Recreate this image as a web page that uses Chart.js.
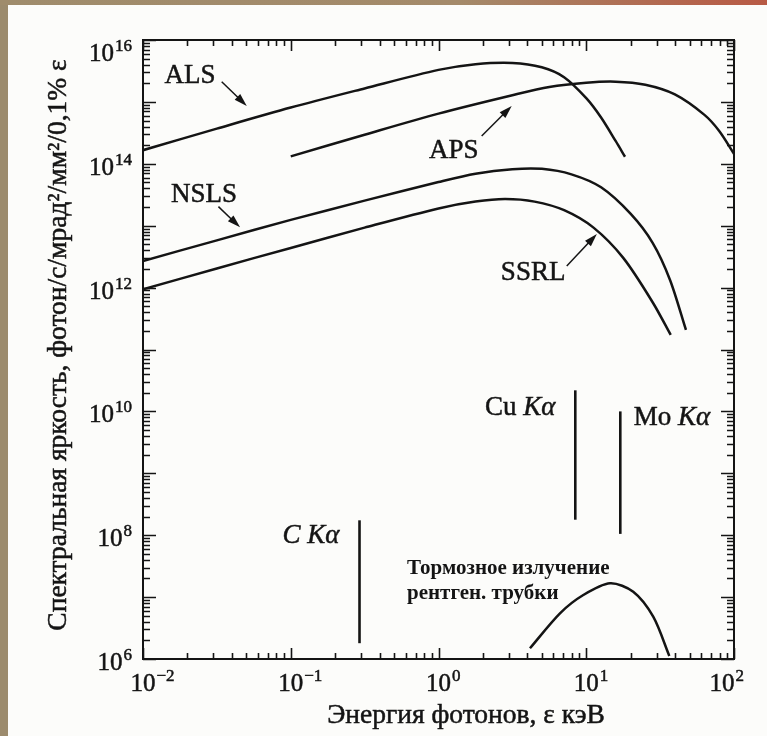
<!DOCTYPE html>
<html lang="ru">
<head>
<meta charset="utf-8">
<title>Спектральная яркость источников</title>
<script src="https://cdn.jsdelivr.net/npm/chart.js@4.4.1/dist/chart.umd.min.js"></script>
<style>
  html,body{margin:0;padding:0;background:#fcfcfa;overflow:hidden;}
  #wrap{position:relative;width:767px;height:736px;}
  #chart{position:absolute;left:0;top:0;}
  .strip{position:absolute;z-index:2;}
  #stripLeft{left:0;top:0;width:8px;height:736px;background:#9c8b6d;}
  #stripTop{left:0;top:0;width:767px;height:5px;background:linear-gradient(90deg,#9f8c6c 0%,#a48a6a 60%,#b4644c 90%,#b85a45 100%);}
</style>
</head>
<body>
<div id="wrap">
  <canvas id="chart" width="767" height="736"></canvas>
  <div class="strip" id="stripLeft"></div>
  <div class="strip" id="stripTop"></div>
</div>
<script>
// ===== данные (кэВ, фотон/с/мрад²/мм²/0,1%) =====
const alsE  = [0.01, 0.0316, 0.1, 0.316, 1, 1.78, 3.16, 5.0, 7.08, 10, 12.6, 15.8, 18.3];
const alsB  = [1.66e14, 3.7e14, 8.1e14, 1.65e15, 3.29e15, 4.07e15, 4.27e15, 3.63e15, 2.51e15, 1.15e15, 5.6e14, 2.34e14, 1.3e14];

const apsE  = [0.1, 0.316, 1, 3.16, 5.62, 10, 15.8, 25.1, 39.8, 63.1, 79.4, 100];
const apsB  = [1.32e14, 2.95e14, 6.46e14, 1.28e15, 1.74e15, 2.04e15, 2.12e15, 1.89e15, 1.32e15, 6.17e14, 3.39e14, 1.45e14];

const nslsE = [0.01, 0.0316, 0.1, 0.316, 1, 1.78, 3.16, 5.01, 7.94, 12.6, 20, 28.2, 36.9, 47.3];
const nslsB = [2.69e12, 5.8e12, 1.24e13, 2.54e13, 5.07e13, 6.92e13, 8.2e13, 8.3e13, 6.76e13, 4.17e13, 1.55e13, 5.25e12, 1.33e12, 2.07e11];

const ssrlE = [0.01, 0.0316, 0.1, 0.316, 1, 1.78, 2.82, 4.47, 7.08, 11.2, 17.8, 28.2, 37.3];
const ssrlB = [9.4e11, 2.04e12, 4.37e12, 9.3e12, 1.9e13, 2.45e13, 2.69e13, 2.45e13, 1.78e13, 9.3e12, 3.02e12, 5.75e11, 1.72e11];

// тормозное излучение рентгеновской трубки
const tubeE = [4.16, 6.64, 9.55, 14.5, 20.8, 28.4, 36.5];
const tubeB = [1.49e6, 5.47e6, 1.08e7, 1.67e7, 1.22e7, 4.82e6, 1.12e6];

// характеристические линии: энергия, нижний и верхний уровень
const lineNames = ['C Kα', 'Cu Kα', 'Mo Kα'];
const lineE     = [0.292, 8.43, 17.0];
const lineLow   = [1.8e6, 1.78e8, 1.05e8];
const lineHigh  = [1.74e8, 2.19e10, 1.0e10];

// оси
const xDecades = [1e-2, 1e-1, 1, 10, 100];
const xExp     = ['−2', '−1', '0', '1', '2'];
const yDecades = [1e6, 1e7, 1e8, 1e9, 1e10, 1e11, 1e12, 1e13, 1e14, 1e15, 1e16];
const yLabeled = [1e6, 1e8, 1e10, 1e12, 1e14, 1e16];
const yExp     = ['6', '8', '10', '12', '14', '16'];

const xTitle = 'Энергия фотонов, ε кэВ';
const yTitle = 'Спектральная яркость, фотон/с/мрад²/мм²/0,1% ε';

// подписи (в координатах данных)
const notes = [
  {text:'ALS',  x:0.0208, y:2.02e15, arrow:[0.0341, 2.12e15, 0.0504, 8.6e14]},
  {text:'NSLS', x:0.0259, y:2.42e13, arrow:[0.0324, 2.03e13, 0.0454, 9.4e12]},
  {text:'APS',  x:1.27,   y:1.24e14, arrow:[1.96, 2.81e14, 3.13, 8.6e14]},
  {text:'SSRL', x:4.37,   y:1.33e12, arrow:[7.38, 2.23e12, 11.8, 7.35e12]}
];
const lineNotes = [
  {parts:[['C ', true], ['Kα', true]],   x:0.137, y:7.48e7},
  {parts:[['Cu ', false], ['Kα', true]], x:3.57,  y:8.75e9},
  {parts:[['Mo ', false], ['Kα', true]], x:38.0,  y:6.03e9}
];
const tubeText = ['Тормозное излучение', 'рентген. трубки'];
const tubeTextPos = [[0.612, 2.36e7], [0.612, 9.3e6]];

const INK = '#141414';
const SERIF = '"Liberation Serif", "Times New Roman", serif';

const pts = (xs, ys) => xs.map((x, i) => ({x, y: ys[i]}));

function curve(label, xs, ys){
  return {label, data: pts(xs, ys), borderColor: INK, borderWidth: 2.5,
    pointRadius: 0, fill: false, tension: 0.3};
}

const datasets = [
  curve('ALS', alsE, alsB),
  curve('APS', apsE, apsB),
  curve('NSLS', nslsE, nslsB),
  curve('SSRL', ssrlE, ssrlB),
  curve('Тормозное излучение', tubeE, tubeB)
];
lineNames.forEach((n, i) => {
  datasets.push({label: n, data: [{x: lineE[i], y: lineLow[i]}, {x: lineE[i], y: lineHigh[i]}],
    borderColor: INK, borderWidth: 2.6, pointRadius: 0, tension: 0});
});

function minorTicks(decades){
  const out = [];
  for (let i = 0; i < decades.length - 1; i++)
    for (let k = 2; k <= 9; k++) out.push(decades[i] * k);
  return out;
}

// текст чуть жирнее, как в печати
function inkText(ctx, t, x, y){
  ctx.fillText(t, x, y);
  ctx.strokeText(t, x, y);
}

// "10" + показатель; align: 'right' — прижать к x, иначе "10" по центру x
function powerLabel(ctx, base, exp, x, yBase, align, maxRight){
  ctx.font = '25px ' + SERIF;
  const wb = ctx.measureText(base).width;
  ctx.font = '17px ' + SERIF;
  const we = ctx.measureText(exp).width;
  const gap = 1;
  let left;
  if (align === 'right') left = x - wb - gap - we;
  else {
    left = x - wb / 2;
    if (maxRight !== undefined && left + wb + gap + we > maxRight) left = maxRight - (wb + gap + we);
  }
  ctx.textAlign = 'left';
  ctx.textBaseline = 'alphabetic';
  ctx.font = '25px ' + SERIF;
  inkText(ctx, base, left, yBase);
  ctx.font = '17px ' + SERIF;
  inkText(ctx, exp, left + wb + gap, yBase - 10);
}

function arrow(ctx, x1, y1, x2, y2){
  const ang = Math.atan2(y2 - y1, x2 - x1);
  const len = 13, half = 4;
  ctx.lineWidth = 1.5;
  ctx.beginPath();
  ctx.moveTo(x1, y1);
  ctx.lineTo(x2 - Math.cos(ang) * len * 0.8, y2 - Math.sin(ang) * len * 0.8);
  ctx.stroke();
  ctx.beginPath();
  ctx.moveTo(x2, y2);
  ctx.lineTo(x2 - Math.cos(ang) * len - Math.sin(ang) * half, y2 - Math.sin(ang) * len + Math.cos(ang) * half);
  ctx.lineTo(x2 - Math.cos(ang) * len + Math.sin(ang) * half, y2 - Math.sin(ang) * len - Math.cos(ang) * half);
  ctx.closePath();
  ctx.fill();
}

const framePlugin = {
  id: 'frame',
  afterDraw(chart){
    const {ctx, chartArea: a, scales: {x, y}} = chart;
    ctx.save();
    ctx.strokeStyle = INK;
    ctx.fillStyle = INK;

    // рамка
    ctx.lineWidth = 2;
    ctx.strokeRect(a.left, a.top, a.right - a.left, a.bottom - a.top);

    // засечки внутрь рамки
    ctx.lineWidth = 1.6;
    ctx.beginPath();
    const xt = xDecades.map(v => [v, 11]).concat(minorTicks(xDecades).map(v => [v, 6]));
    xt.forEach(([v, l]) => {
      const p = Math.round(x.getPixelForValue(v)) + 0.5;
      ctx.moveTo(p, a.bottom); ctx.lineTo(p, a.bottom - l);
      ctx.moveTo(p, a.top);    ctx.lineTo(p, a.top + l);
    });
    const yt = yDecades.map(v => [v, 13]).concat(minorTicks(yDecades).map(v => [v, 7]));
    yt.forEach(([v, l]) => {
      const p = Math.round(y.getPixelForValue(v)) + 0.5;
      ctx.moveTo(a.left, p);  ctx.lineTo(a.left + l, p);
      ctx.moveTo(a.right, p); ctx.lineTo(a.right - l, p);
    });
    ctx.stroke();

    ctx.lineWidth = 0.5;
    // подписи делений
    xDecades.forEach((v, i) => powerLabel(ctx, '10', xExp[i], x.getPixelForValue(v), a.bottom + 32, 'center', a.right + 10));
    yLabeled.forEach((v, i) => {
      const p = y.getPixelForValue(v);
      powerLabel(ctx, '10', yExp[i], a.left - 11, Math.max(p + 11, a.top + 21), 'right');
    });

    // названия осей
    ctx.font = '27.5px ' + SERIF;
    ctx.textAlign = 'center';
    ctx.textBaseline = 'alphabetic';
    inkText(ctx, xTitle, 466, 723);
    ctx.save();
    ctx.translate(66, 345);
    ctx.rotate(-Math.PI / 2);
    inkText(ctx, yTitle, 0, 0);
    ctx.restore();

    // подписи кривых со стрелками
    notes.forEach(n => {
      ctx.font = '27px ' + SERIF;
      ctx.textAlign = 'center';
      ctx.lineWidth = 0.5;
      inkText(ctx, n.text, x.getPixelForValue(n.x), y.getPixelForValue(n.y));
      const [ax1, ay1, ax2, ay2] = n.arrow;
      arrow(ctx, x.getPixelForValue(ax1), y.getPixelForValue(ay1), x.getPixelForValue(ax2), y.getPixelForValue(ay2));
    });

    // характеристические линии
    ctx.lineWidth = 0.5;
    lineNotes.forEach(n => {
      let w = 0;
      n.parts.forEach(([t, it]) => { ctx.font = (it ? 'italic ' : '') + '27px ' + SERIF; w += ctx.measureText(t).width; });
      let cx = x.getPixelForValue(n.x) - w / 2;
      const by = y.getPixelForValue(n.y);
      ctx.textAlign = 'left';
      n.parts.forEach(([t, it]) => {
        ctx.font = (it ? 'italic ' : '') + '27px ' + SERIF;
        inkText(ctx, t, cx, by);
        cx += ctx.measureText(t).width;
      });
    });

    // тормозное излучение
    ctx.font = 'bold 21px ' + SERIF;
    ctx.textAlign = 'left';
    tubeText.forEach((t, i) => ctx.fillText(t, x.getPixelForValue(tubeTextPos[i][0]), y.getPixelForValue(tubeTextPos[i][1])));

    ctx.restore();
  }
};

new Chart(document.getElementById('chart'), {
  type: 'line',
  data: {datasets},
  options: {
    responsive: false,
    animation: false,
    devicePixelRatio: 1,
    parsing: false,
    layout: {padding: {top: 40, right: 33, left: 0, bottom: 0}},
    plugins: {legend: {display: false}, tooltip: {enabled: false}},
    scales: {
      x: {
        type: 'logarithmic', min: 0.01, max: 100,
        grid: {display: false}, border: {display: false},
        ticks: {display: false},
        afterFit(s){ s.height = 77; }
      },
      y: {
        type: 'logarithmic', min: 1e6, max: 1e16,
        grid: {display: false}, border: {display: false},
        ticks: {display: false},
        afterFit(s){ s.width = 143; }
      }
    }
  },
  plugins: [framePlugin]
});
</script>
</body>
</html>
